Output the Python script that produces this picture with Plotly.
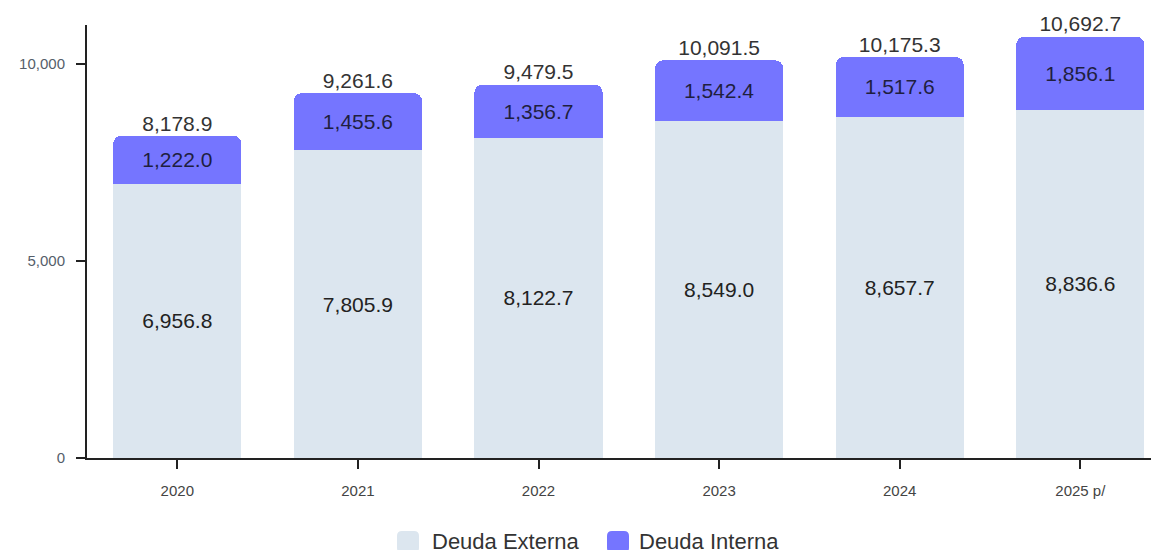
import plotly.graph_objects as go

years = ["2020", "2021", "2022", "2023", "2024", "2025 p/"]
externa = [6956.8, 7805.9, 8122.7, 8549.0, 8657.7, 8836.6]
interna = [1222.0, 1455.6, 1356.7, 1542.4, 1517.6, 1856.1]
total = [8178.9, 9261.6, 9479.5, 10091.5, 10175.3, 10692.7]
series_names = ["Deuda Externa", "Deuda Interna"]

C_EXT = "#dce6ef"
C_INT = "#7575ff"

W, H = 1159, 550
ML, MR, MT, MB = 79, 0, 17, 100
PW, PH = W - ML - MR, H - MT - MB

fmt = lambda v: f"{v:,.1f}"

fig = go.Figure()
fig.add_trace(go.Bar(
    x=years, y=externa, name=series_names[0],
    marker=dict(color=C_EXT, line=dict(width=0)),
    text=[fmt(v) for v in externa], textposition="inside", insidetextanchor="middle",
    textfont=dict(size=21, color="#222222"), hoverinfo="skip", showlegend=False,
))
fig.add_trace(go.Bar(
    x=years, y=interna, name=series_names[1],
    marker=dict(color=C_INT, line=dict(width=0)),
    text=[fmt(v) for v in interna], textposition="inside", insidetextanchor="middle",
    textfont=dict(size=21, color="#1f1f3f"), hoverinfo="skip", showlegend=False,
))
fig.add_trace(go.Scatter(
    x=years, y=total, mode="text", text=[fmt(v) for v in total],
    textposition="top center", textfont=dict(size=21, color="#333333"),
    showlegend=False, hoverinfo="skip", cliponaxis=False,
))

# custom legend (rounded swatches + text), positioned in figure pixels
def px_x(x):
    return (x - ML) / PW

def px_y(y):
    return (H - MB - y) / PH

def rounded_rect(x0, y0, x1, y1, r):
    X0, X1 = px_x(x0), px_x(x1)
    Y0, Y1 = px_y(y0), px_y(y1)  # Y0 top (larger), Y1 bottom
    rx, ry = r / PW, r / PH
    return (f"M {X0+rx} {Y0} L {X1-rx} {Y0} Q {X1} {Y0} {X1} {Y0-ry} "
            f"L {X1} {Y1+ry} Q {X1} {Y1} {X1-rx} {Y1} L {X0+rx} {Y1} "
            f"Q {X0} {Y1} {X0} {Y1+ry} L {X0} {Y0-ry} Q {X0} {Y0} {X0+rx} {Y0} Z")

legend_items = [(series_names[0], C_EXT, 389, 422), (series_names[1], C_INT, 599, 629)]
for nm, col, sx, tx in legend_items:
    fig.add_shape(type="path", xref="paper", yref="paper",
                  path=rounded_rect(sx, 523, sx + 22, 545, 5),
                  fillcolor=col, line=dict(width=0), layer="above")
    fig.add_annotation(xref="paper", yref="paper", x=px_x(tx), y=px_y(533),
                       xanchor="left", yanchor="middle", text=nm, showarrow=False,
                       font=dict(size=22, color="#333333"))

fig.update_layout(
    width=W, height=H,
    barmode="stack", bargap=0.29, barcornerradius=8,
    plot_bgcolor="white", paper_bgcolor="white",
    font=dict(family="Liberation Sans, Arial, sans-serif"),
    margin=dict(l=ML, r=MR, t=MT, b=MB, autoexpand=False),
    showlegend=False,
)
fig.update_xaxes(
    range=[-0.5, 5.48], showline=True, linecolor="#222222", linewidth=2,
    ticks="outside", ticklen=9, tickwidth=2, tickcolor="#222222",
    tickfont=dict(size=15, color="#444444"), showgrid=False, automargin=False,
    ticklabelstandoff=9,
)
fig.update_yaxes(
    range=[0, 10990], tickvals=[0, 5000, 10000], tickformat=",",
    showline=True, linecolor="#222222", linewidth=2,
    ticks="outside", ticklen=9, tickwidth=2, tickcolor="#222222",
    tickfont=dict(size=15, color="#555e6a"), showgrid=False, zeroline=False,
    automargin=False, ticklabelstandoff=8,
)

fig.write_html("out.html")
